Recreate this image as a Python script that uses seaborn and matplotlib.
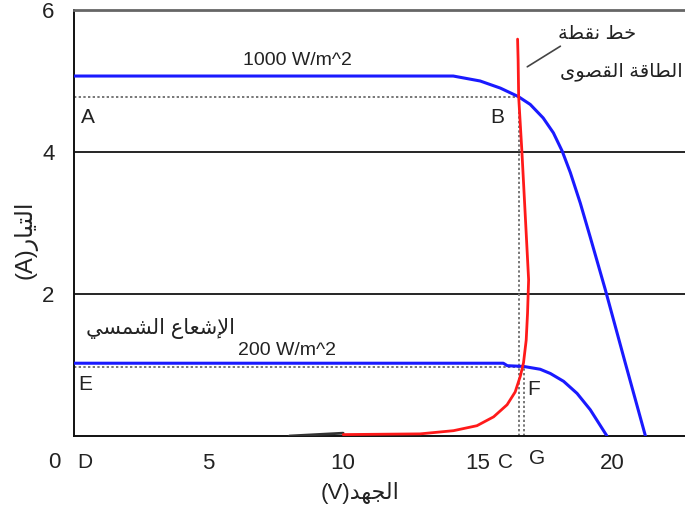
import matplotlib
matplotlib.use("Agg")
import matplotlib.pyplot as plt
import seaborn as sns
import pandas as pd

# I-V curve of a PV panel at 1000 W/m^2 (voltage in V, current in A)
v_1000 = [0.0, 14.09, 15.09, 15.84, 16.51, 16.95, 17.43, 17.81, 18.14, 18.44,
          18.81, 19.18, 19.74, 20.48, 21.23]
i_1000 = [5.07, 5.07, 5.00, 4.90, 4.78, 4.67, 4.48, 4.27, 4.01, 3.71,
          3.28, 2.80, 2.06, 1.03, 0.0]

# I-V curve at 200 W/m^2
v_200 = [0.0, 15.95, 16.10, 16.70, 17.32, 17.70, 18.19, 18.69, 19.18, 19.80]
i_200 = [1.025, 1.025, 0.99, 0.98, 0.94, 0.88, 0.77, 0.60, 0.37, 0.0]

# locus of the maximum power points
v_mpp = [10.0, 12.86, 14.10, 14.97, 15.59, 16.09, 16.39, 16.58, 16.70, 16.80,
         16.85, 16.89, 16.78, 16.64, 16.52, 16.50, 16.48]
i_mpp = [0.02, 0.03, 0.075, 0.145, 0.27, 0.44, 0.62, 0.84, 1.03, 1.35,
         1.73, 2.20, 3.0, 4.01, 4.78, 5.30, 5.59]
v_mpp_low = [8.0, 10.0]
i_mpp_low = [0.0, 0.04]

# operating points B (1000 W/m^2) and F (200 W/m^2)
op_v = [16.52, 16.70]
op_i = [4.78, 0.97]

x_ticks = [5, 10, 15, 20]
y_ticks = [2, 4, 6]

# --- minimal Arabic shaping (contextual forms + right-to-left order) ---
DUAL = {
    'ب': 'ﺏﺐﺑﺒ', 'ت': 'ﺕﺖﺗﺘ', 'ج': 'ﺝﺞﺟﺠ', 'خ': 'ﺥﺦﺧﺨ',
    'س': 'ﺱﺲﺳﺴ', 'ش': 'ﺵﺶﺷﺸ', 'ص': 'ﺹﺺﺻﺼ', 'ط': 'ﻁﻂﻃﻄ',
    'ع': 'ﻉﻊﻋﻌ', 'ف': 'ﻑﻒﻓﻔ', 'ق': 'ﻕﻖﻗﻘ', 'ل': 'ﻝﻞﻟﻠ',
    'م': 'ﻡﻢﻣﻤ', 'ن': 'ﻥﻦﻧﻨ', 'ه': 'ﻩﻪﻫﻬ', 'ي': 'ﻱﻲﻳﻴ',
}
RIGHT = {
    'ا': 'ﺍﺎ', 'إ': 'ﺇﺈ', 'أ': 'ﺃﺄ', 'ة': 'ﺓﺔ', 'د': 'ﺩﺪ',
    'ر': 'ﺭﺮ', 'و': 'ﻭﻮ', 'ى': 'ﻯﻰ',
}
LAM_ALEF = {'ا': 'ﻻﻼ', 'إ': 'ﻹﻺ', 'أ': 'ﻷﻸ'}


def shape(text):
    out = []
    n = len(text)
    k = 0
    prev_joins = False
    while k < n:
        c = text[k]
        nxt = text[k + 1] if k + 1 < n else ''
        if c == 'ل' and nxt in LAM_ALEF:
            out.append(LAM_ALEF[nxt][1 if prev_joins else 0])
            prev_joins = False
            k += 2
            continue
        next_is_letter = nxt in DUAL or nxt in RIGHT
        if c in DUAL:
            forms = DUAL[c]
            if prev_joins and next_is_letter:
                out.append(forms[3])
            elif prev_joins:
                out.append(forms[1])
            elif next_is_letter:
                out.append(forms[2])
            else:
                out.append(forms[0])
            prev_joins = next_is_letter
        elif c in RIGHT:
            out.append(RIGHT[c][1 if prev_joins else 0])
            prev_joins = False
        else:
            out.append(c)
            prev_joins = False
        k += 1
    return ''.join(reversed(out))


sns.set_theme(style="white")
plt.rcParams['font.family'] = ['Liberation Sans', 'DejaVu Sans']

fig = plt.figure(figsize=(6.85, 5.17), dpi=100)
ax = fig.add_axes([74 / 685, 1 - 436 / 517, 1 - 74 / 685, 426 / 517])
ax.set_xlim(0, 22.7)
ax.set_ylim(0, 6)

# horizontal reference lines
for y in y_ticks[:-1]:
    ax.axhline(y, color='black', lw=1.2, zorder=1)

# guide lines to the operating points
dot = dict(color='#777777', lw=1.4, ls=(0, (1.2, 1.2)), zorder=2)
for v, i in zip(op_v, op_i):
    ax.plot([0, v], [i, i], **dot)
    ax.plot([v, v], [0, i], **dot)

curves = pd.concat([
    pd.DataFrame({'V': v_1000, 'I': i_1000, 'curve': '1000'}),
    pd.DataFrame({'V': v_200, 'I': i_200, 'curve': '200'}),
])
sns.lineplot(data=curves, x='V', y='I', hue='curve', palette=['#1a1aff', '#1a1aff'],
             sort=False, estimator=None, lw=2.2, legend=False, ax=ax, zorder=4)
sns.lineplot(x=v_mpp_low, y=i_mpp_low, color='#333333', lw=2.0, sort=False,
             estimator=None, ax=ax, zorder=3)
sns.lineplot(x=v_mpp, y=i_mpp, color='#ff1a1a', lw=2.0, sort=False,
             estimator=None, ax=ax, zorder=5)

# spines and ticks
ax.spines['right'].set_visible(False)
ax.spines['top'].set_color('#666666')
ax.spines['top'].set_linewidth(2.0)
for s in ('left', 'bottom'):
    ax.spines[s].set_color('#111111')
    ax.spines[s].set_linewidth(1.4)
ax.set_xticks(x_ticks)
ax.set_yticks(y_ticks)
ax.tick_params(axis='x', direction='in', length=8, width=1.2, color='#222222',
               labelsize=16, pad=12, labelcolor='#222222')
ax.tick_params(axis='y', length=0, labelsize=16, pad=14, labelcolor='#222222')
ax.text(-0.72, -0.37, '0', fontsize=16, color='#222222', ha='center', va='center',
        clip_on=False)

# axis titles
ax.set_ylabel('(A)' + shape('التيار'), fontsize=17, color='#222222')
ax.yaxis.set_label_coords(-0.08, 0.46)
ax.yaxis.label.set_va('center')
ax.set_xlabel('(V)' + shape('الجهد'), fontsize=16, color='#222222')
ax.xaxis.set_label_coords(0.468, -0.134)
ax.xaxis.label.set_va('center')

# point letters
lbl = dict(fontsize=15, color='#222222', ha='center', va='center', clip_on=False)
for ch, v, i in [('A', 0.52, 4.49), ('B', 15.72, 4.49), ('E', 0.41, 0.72),
                 ('F', 17.06, 0.65), ('D', 0.41, -0.37), ('C', 16.02, -0.37),
                 ('G', 17.21, -0.31)]:
    ax.text(v, i, ch, **lbl)

# curve annotations
ax.text(8.3, 5.29, '1000 W/m^2', fontsize=14, color='#222222', ha='center', va='center')
ax.text(7.9, 1.21, '200 W/m^2', fontsize=14, color='#222222', ha='center', va='center')
ax.text(3.2, 1.51, shape('الإشعاع الشمسي'), fontsize=15, color='#222222',
        ha='center', va='center')
ax.text(19.45, 5.66, shape('خط نقطة'), fontsize=14, color='#222222',
        ha='center', va='center')
ax.text(20.35, 5.13, shape('الطاقة القصوى'), fontsize=14, color='#222222',
        ha='center', va='center', clip_on=False)
ax.plot([18.07, 16.84], [5.49, 5.20], color='#444444', lw=1.2)

fig.savefig('out.png', dpi=100)
